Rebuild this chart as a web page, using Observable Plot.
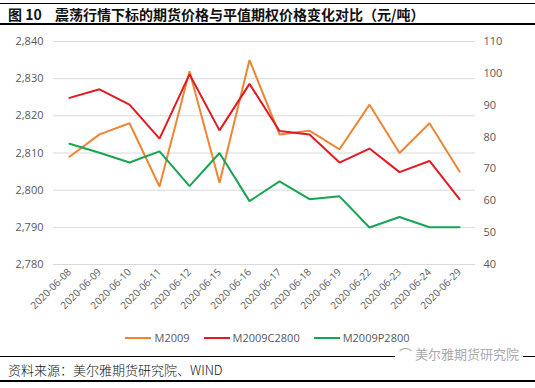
<!DOCTYPE html>
<html>
<head>
<meta charset="utf-8">
<script src="https://cdn.jsdelivr.net/npm/d3@7"></script>
<script src="https://cdn.jsdelivr.net/npm/@observablehq/plot@0.6"></script>
<style>
  html, body { margin: 0; padding: 0; background: #fff; }
  #wrap { position: relative; width: 535px; height: 388px; overflow: hidden; font-family: "Noto Sans CJK SC", "Noto Sans", sans-serif; }
  .hline { position: absolute; left: 0; width: 535px; background: #000; }
  #title { position: absolute; left: 8px; top: 5px; font-size: 14px; font-weight: 700; color: #111; white-space: nowrap; line-height: 18px; }
  #title .num { display: inline-block; width: 47px; }
  #chart { position: absolute; left: 0; top: 25px; }
  #legend { position: absolute; top: 330px; left: 0; width: 535px; display: flex; justify-content: center; gap: 14px; font-family: "Open Sans", "Noto Sans", sans-serif; font-size: 11px; color: #595959; }
  #legend .item { display: flex; align-items: center; gap: 3px; }
  #footer { position: absolute; left: 8px; top: 361px; font-size: 13px; color: #111; white-space: nowrap; line-height: 17px; font-weight: 300; }
  #mark { position: absolute; right: 12px; top: 346px; font-size: 13px; color: #aaa; background: #fff; padding: 0 4px; line-height: 16px; white-space: nowrap; }
</style>
</head>
<body>
<div id="wrap">
  <div class="hline" style="top:3px;height:1px;"></div>
  <div id="title"><span class="num">图 10</span>震荡行情下标的期货价格与平值期权价格变化对比（元/吨）</div>
  <div class="hline" style="top:23px;height:2px;"></div>
  <div id="chart"></div>
  <div id="legend"></div>
  <div class="hline" style="top:356px;height:1px;"></div>
  <div id="mark">⌒ 美尔雅期货研究院</div>
  <div id="footer">资料来源：美尔雅期货研究院、WIND</div>
  <div class="hline" style="top:380px;height:1.5px;"></div>
</div>
<script>
const dates = ["2020-06-08","2020-06-09","2020-06-10","2020-06-11","2020-06-12","2020-06-15","2020-06-16","2020-06-17","2020-06-18","2020-06-19","2020-06-22","2020-06-23","2020-06-24","2020-06-29"];
const m2009 = [2809, 2815, 2818, 2801, 2832, 2802, 2835, 2815, 2816, 2811, 2823, 2810, 2818, 2805];
const m2009C2800 = [92.3, 95, 90.2, 79.5, 99.7, 82.1, 96.7, 81.9, 80.8, 72, 76.4, 69, 72.5, 60.5];
const m2009P2800 = [77.9, 75.1, 72, 75.5, 64.6, 75, 59.9, 66.1, 60.5, 61.4, 51.6, 54.9, 51.7, 51.7];
const leftTicks = [2780, 2790, 2800, 2810, 2820, 2830, 2840];
const rightTicks = [40, 50, 60, 70, 80, 90, 100, 110];
const seriesNames = ["M2009", "M2009C2800", "M2009P2800"];
const seriesColors = ["#ED8537", "#E01B22", "#17A552"];

// map right-axis values onto the left scale
const toLeft = v => 2780 + (v - 40) * 60 / 70;
const fromLeft = y => 40 + (y - 2780) * 70 / 60;

const rows = [];
dates.forEach((d, i) => {
  rows.push({date: d, series: seriesNames[0], y: m2009[i]});
  rows.push({date: d, series: seriesNames[1], y: toLeft(m2009C2800[i])});
  rows.push({date: d, series: seriesNames[2], y: toLeft(m2009P2800[i])});
});

const chart = Plot.plot({
  width: 535,
  height: 300,
  marginLeft: 53,
  marginRight: 60,
  marginTop: 16,
  marginBottom: 61,
  style: {fontFamily: "'Open Sans', 'Noto Sans', sans-serif", fontSize: "11px", color: "#595959", background: "transparent"},
  x: {type: "point", domain: dates, padding: 0.5},
  y: {domain: [2780, 2840]},
  color: {domain: seriesNames, range: seriesColors},
  marks: [
    Plot.ruleY(leftTicks, {stroke: "#d9d9d9", strokeWidth: 1}),
    Plot.axisY({ticks: leftTicks, tickSize: 0, tickPadding: 10, tickFormat: d3.format(","), label: null, fill: "#595959"}),
    Plot.axisY({anchor: "right", ticks: rightTicks.map(toLeft), tickSize: 0, tickPadding: 8, tickFormat: d => String(Math.round(fromLeft(d))), label: null, fill: "#595959"}),
    Plot.axisX({tickRotate: -45, tickSize: 0, tickPadding: 6, label: null, fontSize: 10, fill: "#595959"}),
    Plot.line(rows, {x: "date", y: "y", z: "series", stroke: "series", strokeWidth: 2, strokeLinejoin: "miter"})
  ]
});
document.getElementById("chart").appendChild(chart);

const legend = document.getElementById("legend");
seriesNames.forEach((name, i) => {
  const item = document.createElement("div");
  item.className = "item";
  item.innerHTML = `<svg width="26" height="6"><line x1="0" y1="3" x2="26" y2="3" stroke="${seriesColors[i]}" stroke-width="2"/></svg><span>${name}</span>`;
  legend.appendChild(item);
});
</script>
</body>
</html>
